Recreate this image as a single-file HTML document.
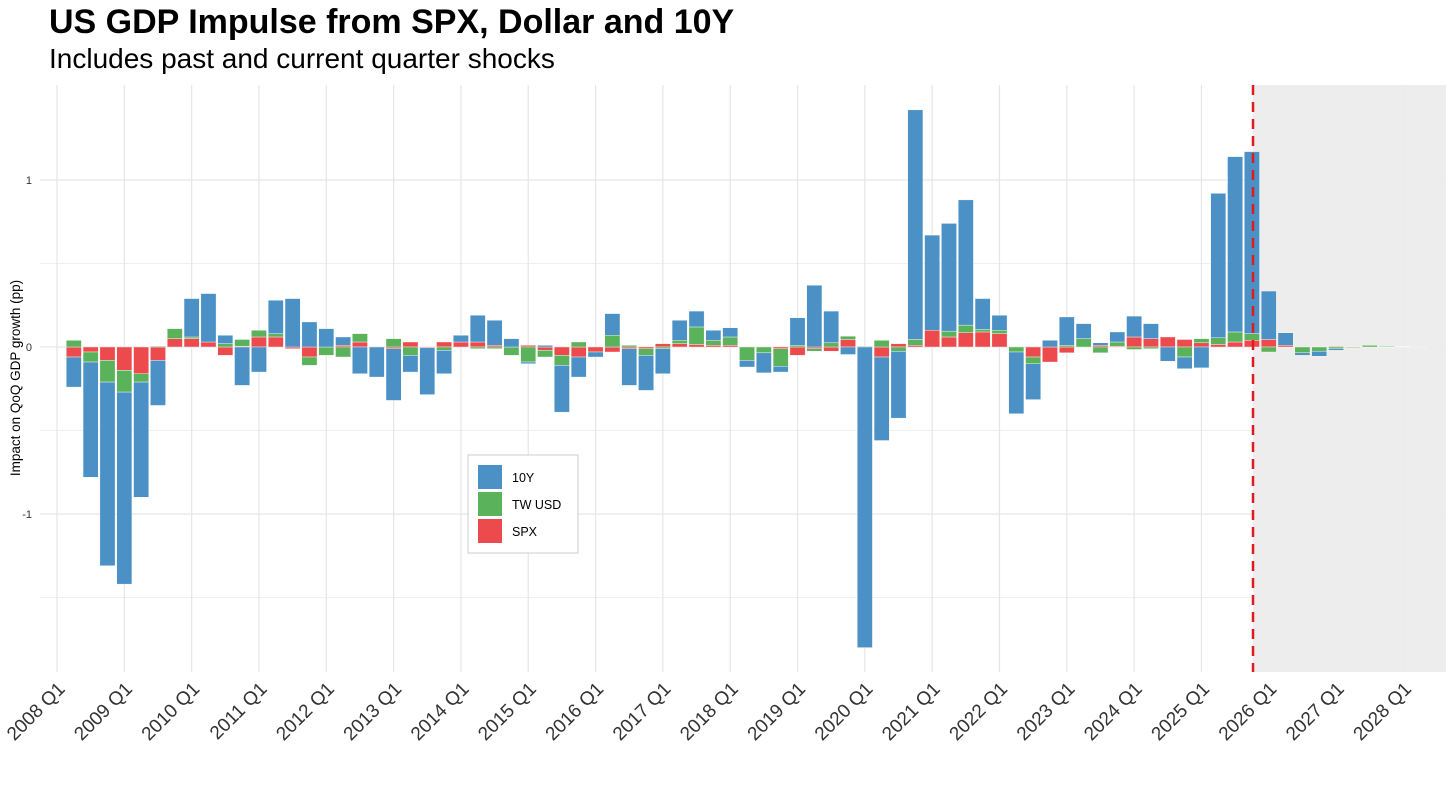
<!DOCTYPE html>
<html><head><meta charset="utf-8"><style>
body{margin:0;background:#fff;}
svg text{font-family:"Liberation Sans",Arial,sans-serif;}
</style></head><body>
<svg id="chart" width="1456" height="784" viewBox="0 0 1456 784" xmlns="http://www.w3.org/2000/svg">
<rect width="1456" height="784" fill="#fff"/>
<text x="49" y="33" font-size="34" font-weight="bold" fill="#000">US GDP Impulse from SPX, Dollar and 10Y</text>
<text x="49" y="68" font-size="28" fill="#000">Includes past and current quarter shocks</text>
<text transform="translate(20,378) rotate(-90)" text-anchor="middle" font-size="13.5" fill="#000">Impact on QoQ GDP growth (pp)</text>
<g id="grid"></g>
<rect x="1253" y="85" width="193" height="587" fill="#ebebeb" opacity="0.9"/>
<g id="bars"></g>
<line x1="1253" y1="85" x2="1253" y2="672" stroke="#e31a1c" stroke-width="2.5" stroke-dasharray="10,7"/>
<g id="xlabels"></g>
<g>
<rect x="468" y="455" width="110" height="98" fill="#fff" stroke="#ccc" stroke-width="1"/>
<rect x="478" y="465" width="24" height="24" fill="#4b91c6"/>
<text x="512" y="482" font-size="12.5" fill="#000">10Y</text>
<rect x="478" y="492" width="24" height="24" fill="#5ab25a"/>
<text x="512" y="509" font-size="12.5" fill="#000">TW USD</text>
<rect x="478" y="519" width="24" height="24" fill="#ec4a4c"/>
<text x="512" y="536" font-size="12.5" fill="#000">SPX</text>
</g>
</svg>
<script>
const spx = [-0.06,-0.03,-0.08,-0.14,-0.16,-0.08,0.05,0.05,0.03,-0.05,
0.005,0.06,0.06,-0.01,-0.06,0,0.01,0.03,0,-0.01,
0.03,-0.005,0.03,0.03,0.03,0.01,0,0.01,-0.02,-0.05,
-0.06,-0.03,-0.03,-0.01,-0.01,0.02,0.02,0.015,0.01,0.01,
0,0,-0.01,-0.05,-0.01,-0.025,0.045,0,-0.06,0.02,
0.01,0.1,0.06,0.085,0.09,0.08,0,-0.06,-0.09,-0.035,
0,0.01,0.005,0.06,0.05,0.06,0.045,0.025,0.015,0.03,
0.04,0.045,0.01,0,0,0.005,0.003,0,-0.002,0,0];
const usd = [0.04,-0.06,-0.13,-0.13,-0.05,0.005,0.06,0.01,0,0.02,
0.04,0.04,0.02,0,-0.05,-0.05,-0.06,0.05,0,0.05,
-0.05,0,-0.02,0,-0.01,-0.01,-0.05,-0.09,-0.04,-0.06,
0.03,0,0.07,0.01,-0.04,-0.01,0.02,0.105,0.03,0.05,
-0.08,-0.035,-0.105,0.01,-0.015,0.025,0.02,0.005,0.04,-0.026,
0.035,0,0.035,0.046,0.015,0.02,-0.03,-0.04,0,0.01,
0.05,-0.035,0.025,-0.015,-0.01,0,-0.06,0.025,0.04,0.06,
0.04,-0.03,0,-0.035,-0.025,-0.01,-0.005,0.01,0.005,0.002,0.001];
const tenY = [-0.18,-0.69,-1.10,-1.15,-0.69,-0.27,0,0.23,0.29,0.05,
-0.23,-0.15,0.2,0.29,0.15,0.11,0.05,-0.16,-0.18,-0.31,
-0.1,-0.28,-0.14,0.04,0.16,0.15,0.05,-0.01,0.01,-0.28,
-0.12,-0.03,0.13,-0.22,-0.21,-0.15,0.12,0.095,0.06,0.055,
-0.04,-0.12,-0.035,0.165,0.37,0.19,-0.045,-1.80,-0.50,-0.40,
1.375,0.57,0.645,0.75,0.185,0.09,-0.37,-0.215,0.04,0.17,
0.09,0.015,0.06,0.125,0.09,-0.085,-0.07,-0.125,0.865,1.05,
1.09,0.29,0.075,-0.015,-0.03,-0.01,0,0,0,0,0];
const firstQuarterIndex = 1;
const yearTicks = [2008,2009,2010,2011,2012,2013,2014,2015,2016,2017,2018,2019,2020,2021,2022,2023,2024,2025,2026,2027,2028];
const yTicks = [-1,0,1];
const yMinor = [-1.5,-0.5,0.5];

const NS="http://www.w3.org/2000/svg";
function xScale(qi){return 57 + qi*16.83;}
function yScale(v){return 347 - v*167;}
function mk(tag,attrs,parent){const e=document.createElementNS(NS,tag);for(const k in attrs)e.setAttribute(k,attrs[k]);parent.appendChild(e);return e;}

const grid=document.getElementById('grid');
yMinor.forEach(v=>{
  const l=mk('line',{x1:40,x2:1446,y1:yScale(v),y2:yScale(v),stroke:'#f0f0f0','stroke-width':1},grid);
  
  
});
yTicks.forEach(v=>{
  const l=mk('line',{x1:40,x2:1446,y1:yScale(v),y2:yScale(v),stroke:'#e6e6e6','stroke-width':1.2},grid);
  
  
  const t=mk('text',{x:32,y:yScale(v)+4,'text-anchor':'end','font-size':11,fill:'#333'},grid);
  t.textContent=String(v);
  
  
});
const xl=document.getElementById('xlabels');
yearTicks.forEach(y=>{
  const x=xScale((y-2008)*4);
  const l=mk('line',{x1:x,x2:x,y1:85,y2:672,stroke:'#e6e6e6','stroke-width':1.2},grid);
  
  
  const t=mk('text',{transform:`translate(${x+9},690) rotate(-45)`,'text-anchor':'end','font-size':19,fill:'#333'},xl);
  t.textContent=y+' Q1';
  
  
});

const bars=document.getElementById('bars');
const series=[{vals:spx,color:'#ec4a4c',name:'spx'},{vals:usd,color:'#5ab25a',name:'tw-usd'},{vals:tenY,color:'#4b91c6',name:'10y'}];
for(let i=0;i<tenY.length;i++){
  const cx=xScale(firstQuarterIndex+i);
  let pos=0,neg=0;
  series.forEach(s=>{
    const v=s.vals[i];
    let a,b;
    if(v>=0){a=pos;b=pos+v;pos=b;}else{a=neg;b=neg+v;neg=b;}
    const y1=yScale(Math.max(a,b)),y2=yScale(Math.min(a,b));
    const r=mk('rect',{x:cx-7.6,y:y1,width:15.2,height:Math.max(0,y2-y1),fill:s.color,stroke:'#fff','stroke-width':0.4},bars);
    
    
  });
}
</script>
</body></html>
